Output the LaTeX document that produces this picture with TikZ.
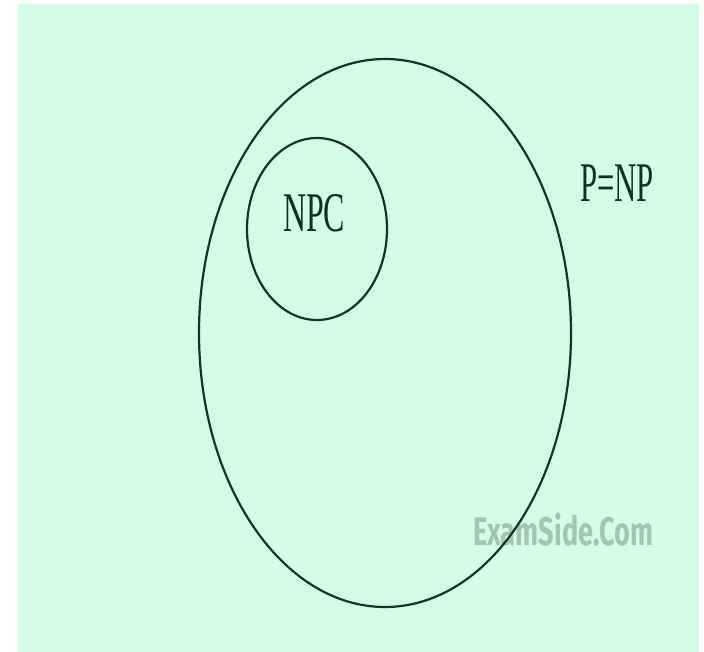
\documentclass[tikz,border=0pt]{standalone}
\usepackage{fontspec}
\usetikzlibrary{shapes.geometric}
\setmainfont{Liberation Serif}
\newfontfamily\wmfont{Fira Sans}
\definecolor{bgcol}{RGB}{212,253,229}
\definecolor{linecol}{RGB}{22,52,38}
\definecolor{txtcol}{RGB}{18,48,32}
\definecolor{wmcol}{RGB}{162,198,178}
\begin{document}
\begin{tikzpicture}[x=1pt,y=-1pt,
  setline/.style={draw=linecol,line width=2.2pt},
  lbl/.style={text=txtcol,inner sep=0pt,font=\fontsize{56}{60}\selectfont},
  wm/.style={text=wmcol,inner sep=0pt,font=\wmfont\bfseries\fontsize{40}{44}\selectfont}]
\useasboundingbox (0,0) rectangle (704,652);
\fill[bgcol] (18,4) rectangle (699,652);
\node[wm,anchor=base west,xscale=0.68] (wmark) at (473,545) {ExamSide.Com};
\node[setline,ellipse,minimum width=372pt,minimum height=548pt,inner sep=0pt] (pnp) at (385,333) {};
\node[setline,ellipse,minimum width=140pt,minimum height=182pt,inner sep=0pt] (npcset) at (317,229) {};
\node[lbl,anchor=base west,xscale=0.57] (npc) at (283,232) {NPC};
\node[lbl,anchor=base west,xscale=0.55] (pnplbl) at (580,202) {P=NP};
\end{tikzpicture}
\end{document}
